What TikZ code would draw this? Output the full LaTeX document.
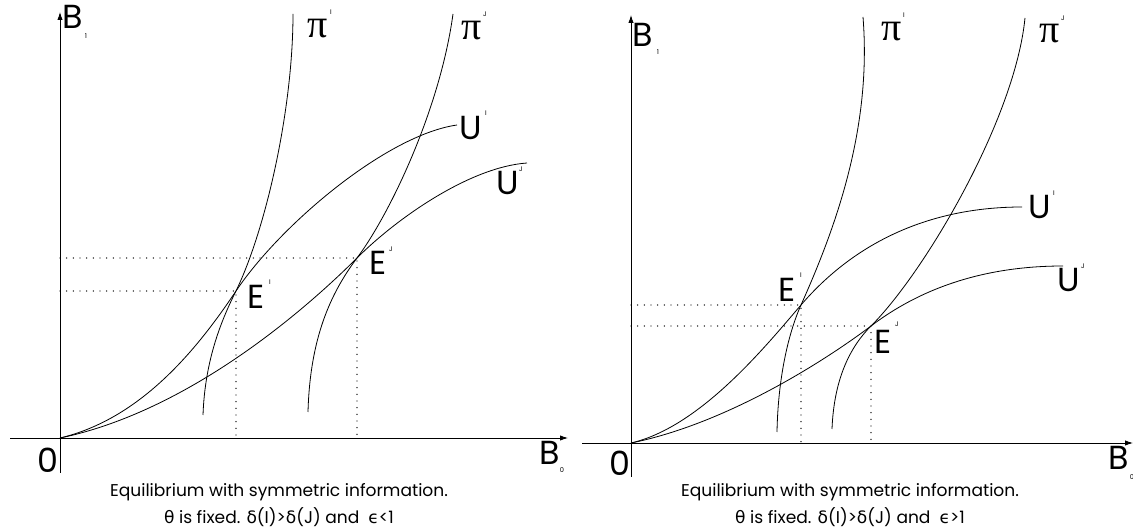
\documentclass[tikz,border=0pt]{standalone}
\usepackage{fontspec}
\setmainfont{Poppins}
\newfontfamily\greekfont{DejaVu Sans}
\newfontfamily\pifont{Liberation Serif}
\usetikzlibrary{arrows.meta}

\begin{document}
\begin{tikzpicture}[x=0.75pt, y=0.75pt,
    curve/.style={line width=0.6pt},
    guide/.style={line width=1.1pt, line cap=round, dash pattern=on 0pt off 5pt},
    axis/.style={line width=0.6pt, -{Latex[length=6pt,width=4pt]}},
    big/.style={font=\fontsize{25}{25}\selectfont, inner sep=0pt},
    profit/.style={font=\pifont\fontsize{30}{30}\selectfont, inner sep=0pt},
    tiny/.style={font=\fontsize{5}{5}\selectfont, inner sep=0pt},
    caption/.style={font=\fontsize{12.8}{20}\selectfont, align=center, inner sep=0pt}]
    \useasboundingbox (0,0) rectangle (1133,529);

    % left panel: epsilon < 1
    \draw[axis] (60,56) -- (60,517);
    \draw[axis] (10,91) -- (568,91);
    \coordinate (OL) at (60,91);
    \coordinate (EIl) at (236,238);
    \coordinate (EJl) at (357,271);
    \draw[guide] (60,238) -- (EIl) -- (236,91);
    \draw[guide] (60,271) -- (EJl) -- (357,91);
    % iso-profit curves
    \draw[curve] (203,114) .. controls (205,170) and (222,210) .. (EIl)
        .. controls (266,300) and (293,420) .. (293,515);
    \draw[curve] (308,117) .. controls (310,190) and (330,235) .. (EJl)
        .. controls (390,315) and (440,420) .. (453,515);
    % indifference curves
    \draw[curve] (OL) .. controls (140,110) and (196,178) .. (EIl)
        .. controls (281,305) and (387,394) .. (457,404);
    \draw[curve] (OL) .. controls (190,118) and (307,221) .. (EJl)
        .. controls (397,311) and (470,362) .. (527,366);
    \node[big] (BoneL) at (73,512) {B};
    \node[tiny] (BoneLs) at (86,493) {1};
    \node[profit] (piIL) at (318,500) {π};
    \node[tiny] (piILs) at (331,517) {I};
    \node[profit] (piJL) at (472,498) {π};
    \node[tiny] (piJLs) at (485,515) {J};
    \node[big] (UIL) at (471,401) {U};
    \node[tiny] (UILs) at (486,416) {I};
    \node[big] (UJL) at (508,346) {U};
    \node[tiny] (UJLs) at (521,360) {J};
    \node[big] (EIL) at (256,232) {E};
    \node[tiny] (EILs) at (270,247) {I};
    \node[big] (EJL) at (378,266) {E};
    \node[tiny] (EJLs) at (391,280) {J};
    \node[big] (zeroL) at (48,69) {0};
    \node[big] (BzeroL) at (550,76) {B};
    \node[tiny] (BzeroLs) at (562,59) {0};
    \node[caption] (capL) at (279,24) {Equilibrium with symmetric information.\\
        {\greekfont θ} is fixed. {\greekfont δ}(I)>{\greekfont δ}(J) and \ {\greekfont ϵ}<1};

    % right panel: epsilon > 1
    \draw[axis] (631,52) -- (631,514);
    \draw[axis] (582,86) -- (1133,86);
    \coordinate (OR) at (631,86);
    \coordinate (EIr) at (801,224);
    \coordinate (EJr) at (871,203);
    \draw[guide] (631,224) -- (EIr) -- (801,86);
    \draw[guide] (631,203) -- (EJr) -- (871,86);
    % iso-profit curves
    \draw[curve] (777,97) .. controls (778,150) and (788,195) .. (EIr)
        .. controls (835,300) and (872,400) .. (863,512);
    \draw[curve] (832,100) .. controls (834,150) and (850,182) .. (EJr)
        .. controls (925,257) and (1015,410) .. (1025,511);
    % indifference curves
    \draw[curve] (OR) .. controls (700,102) and (765,182) .. (EIr)
        .. controls (855,287) and (930,322) .. (1022,322);
    \draw[curve] (OR) .. controls (730,106) and (830,172) .. (EJr)
        .. controls (925,244) and (990,263) .. (1063,263);
    \node[big] (BoneR) at (643,494) {B};
    \node[tiny] (BoneRs) at (658,477) {1};
    \node[profit] (piIR) at (892,497) {π};
    \node[tiny] (piIRs) at (904,514) {I};
    \node[profit] (piJR) at (1050,495) {π};
    \node[tiny] (piJRs) at (1063,511) {J};
    \node[big] (UIR) at (1040,322) {U};
    \node[tiny] (UIRs) at (1054,336) {I};
    \node[big] (UJR) at (1069,249) {U};
    \node[tiny] (UJRs) at (1083,263) {J};
    \node[big] (EIR) at (787,239) {E};
    \node[tiny] (EIRs) at (801,254) {I};
    \node[big] (EJR) at (883,187) {E};
    \node[tiny] (EJRs) at (897,205) {J};
    \node[big] (zeroR) at (620,66) {0};
    \node[big] (BzeroR) at (1119,71) {B};
    \node[tiny] (BzeroRs) at (1132,52) {0};
    \node[caption] (capR) at (850,24) {Equilibrium with symmetric information.\\
        {\greekfont θ} is fixed. {\greekfont δ}(I)>{\greekfont δ}(J) and \ {\greekfont ϵ}>1};
\end{tikzpicture}
\end{document}
